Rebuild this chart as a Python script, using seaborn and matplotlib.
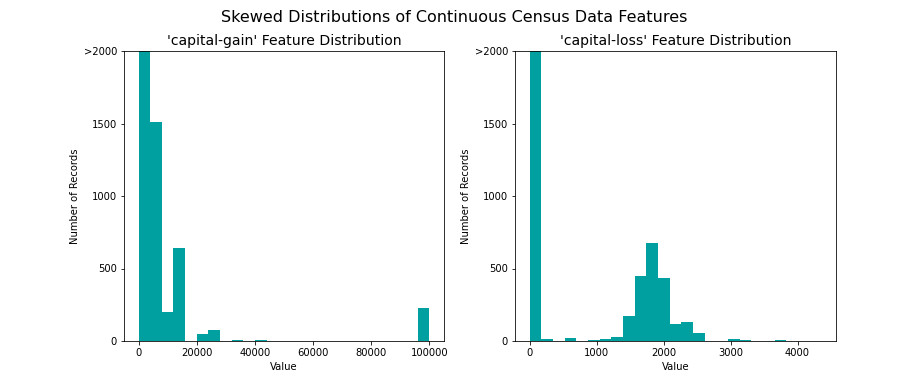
import numpy as np
import pandas as pd
import matplotlib
matplotlib.use("Agg")
import matplotlib.pyplot as plt
import seaborn as sns

# ---- data (25 bins each) ----
gain_min, gain_max = 0, 99999
gain_counts = [41500, 1510, 200, 642, 0, 47, 76, 0, 5, 0, 5, 0, 0, 0, 0,
               0, 0, 0, 0, 0, 0, 0, 0, 0, 229]
loss_min, loss_max = 0, 4356
loss_counts = [42900, 12, 0, 20, 0, 6, 12, 30, 172, 448, 678, 434, 117, 131,
               55, 0, 0, 12, 5, 0, 0, 5, 0, 0, 2]
features = ["capital-gain", "capital-loss"]
ytick_vals = [0, 500, 1000, 1500, 2000]
ytick_labels = ["0", "500", "1000", "1500", ">2000"]
color = "#00A0A0"

DPI = 72
fig = plt.figure(figsize=(921 / DPI, 383 / DPI), dpi=DPI)

positions = [[124 / 921, 1 - 341 / 383, 320 / 921, 290 / 383],
             [515 / 921, 1 - 341 / 383, 321 / 921, 290 / 383]]
specs = [(gain_min, gain_max, gain_counts), (loss_min, loss_max, loss_counts)]

for i, (feat, (lo, hi, counts)) in enumerate(zip(features, specs)):
    ax = fig.add_axes(positions[i])
    nb = len(counts)
    edges = np.linspace(lo, hi, nb + 1)
    centers = (edges[:-1] + edges[1:]) / 2
    df = pd.DataFrame({"Value": centers, "count": counts})
    sns.histplot(data=df, x="Value", weights="count", bins=nb, binrange=(lo, hi),
                 ax=ax, color=color, alpha=1, linewidth=0, edgecolor="none")
    ax.set_title("'%s' Feature Distribution" % feat, fontsize=14)
    ax.set_xlabel("Value", fontsize=10)
    ax.set_ylabel("Number of Records", fontsize=10)
    ax.set_ylim((0, 2000))
    ax.set_yticks(ytick_vals)
    ax.set_yticklabels(ytick_labels)
    span = hi - lo
    ax.set_xlim(lo - 0.05 * span, hi + 0.05 * span)
    ax.tick_params(labelsize=10)

fig.text(0.493, 1 - 18 / 383, "Skewed Distributions of Continuous Census Data Features",
         fontsize=16, ha="center", va="center")

fig.savefig("out.png", dpi=DPI)
